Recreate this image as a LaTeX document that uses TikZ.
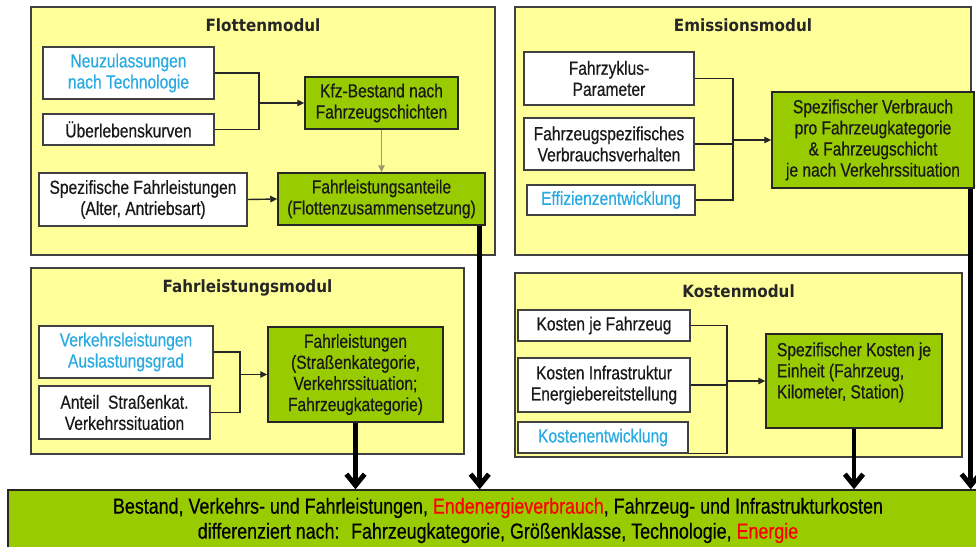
\documentclass[tikz,border=0pt]{standalone}
\usepackage{fontspec}
\setmainfont{Liberation Sans}[FakeStretch=0.82, FakeBold=0.5]
\newfontfamily\titlefont{DejaVu Sans}[FakeStretch=0.9]
\usetikzlibrary{arrows.meta, positioning, calc}
\definecolor{panelyellow}{RGB}{255,255,153}
\definecolor{boxgreen}{RGB}{153,204,0}
\definecolor{inblue}{RGB}{41,171,226}
\definecolor{framegray}{RGB}{64,64,64}

\begin{document}
\begin{tikzpicture}[
  x=0.025cm, y=-0.025cm,
  panel/.style={draw=framegray, line width=1pt, fill=panelyellow, inner sep=0pt},
  ptitle/.style={font=\titlefont\bfseries\fontsize{12}{14}\selectfont, text=black!85},
  wbox/.style={draw=framegray, line width=1pt, fill=white, align=center, inner sep=2pt, text=black!90, font=\fontsize{13.5}{15}\selectfont},
  gbox/.style={wbox, draw=black!85, fill=boxgreen},
  bsize/.style 2 args={minimum width=#1*0.025cm, minimum height=#2*0.025cm},
  link/.style={line width=1pt, draw=black!85},
  linkarr/.style={link, -{Triangle[length=5pt, width=4.5pt]}},
  bigarr/.style={line width=3.5pt, -{Straight Barb[length=8pt, width=13pt]}}
]
  \useasboundingbox (0,0) rectangle (976,547);
  \clip (0,0) rectangle (976,547);

  \node[panel, bsize={464}{248}] (flotte) at (263,131) {};
  \node[panel, bsize={456}{248}] (emis) at (743,131) {};
  \node[panel, bsize={433}{186}] (fahrl) at (247.5,361) {};
  \node[panel, bsize={447}{184}] (kost) at (738.5,365) {};

  \node[ptitle, below=5pt of flotte.north] (tflotte) {Flottenmodul};
  \node[ptitle, below=5pt of emis.north] (temis) {Emissionsmodul};
  \node[ptitle, below=5pt of fahrl.north] (tfahrl) {Fahrleistungsmodul};
  \node[ptitle, below=5pt of kost.north] (tkost) {Kostenmodul};

  \node[wbox, bsize={171}{52}, text=inblue] (neu) at (128.5,73) {Neuzulassungen\\nach Technologie};
  \node[wbox, bsize={171}{31}] (ueber) at (128.5,129.5) {Überlebenskurven};
  \node[gbox, bsize={153}{52}] (kfz) at (381.5,103) {Kfz-Bestand nach\\Fahrzeugschichten};
  \node[wbox, bsize={208}{53}] (spezfl) at (143,199.5) {Spezifische Fahrleistungen\\(Alter, Antriebsart)};
  \node[gbox, bsize={207}{52}] (anteile) at (381.5,199) {Fahrleistungsanteile\\(Flottenzusammensetzung)};

  \node[wbox, bsize={170}{53}] (zyklus) at (609,78.5) {Fahrzyklus-\\Parameter};
  \node[wbox, bsize={170}{52}] (verbr) at (609,144) {Fahrzeugspezifisches\\Verbrauchsverhalten};
  \node[wbox, bsize={168}{30}, text=inblue] (effiz) at (611,200) {Effizienzentwicklung};
  \node[gbox, bsize={202}{96}] (spezv) at (873,140) {Spezifischer Verbrauch\\pro Fahrzeugkategorie\\\& Fahrzeugschicht\\je nach Verkehrssituation};

  \node[wbox, bsize={174}{52}, text=inblue] (verkl) at (126,352) {Verkehrsleistungen\\Auslastungsgrad};
  \node[wbox, bsize={171}{53}] (anteil) at (124.5,412.5) {Anteil~ Straßenkat.\\Verkehrssituation};
  \node[gbox, bsize={175}{95}] (fleist) at (355.5,374.5) {Fahrleistungen\\(Straßenkategorie,\\Verkehrssituation;\\Fahrzeugkategorie)};

  \node[wbox, bsize={172}{31}] (kjf) at (604,325.5) {Kosten je Fahrzeug};
  \node[wbox, bsize={172}{54}] (kinf) at (604,385) {Kosten Infrastruktur\\Energiebereitstellung};
  \node[wbox, bsize={170}{31}, text=inblue] (kentw) at (603,437.5) {Kostenentwicklung};
  \node[gbox, bsize={176}{94}, align=left] (spezk) at (854,381) {Spezifischer Kosten je\\Einheit (Fahrzeug,\\Kilometer, Station)\\\mbox{}};

  \node[gbox, bsize={980}{61}, text=black, font=\fontsize{15.5}{17.8}\selectfont] (result) at (498,520.5)
    {Bestand, Verkehrs- und Fahrleistungen, \textcolor{red}{Endenergieverbrauch}, Fahrzeug- und Infrastrukturkosten\\
     differenziert nach:~ Fahrzeugkategorie, Größenklasse, Technologie, \textcolor{red}{Energie}};

  \coordinate (j1) at (259,103);
  \draw[link] (neu.east) -| (j1);
  \draw[link] (ueber.east) -| (j1);
  \draw[linkarr] (j1) -- (kfz.west);
  \draw[line width=1pt, draw=black!45!olive!60, -{Triangle[length=5pt, width=4.5pt]}] (kfz.south) -- (anteile.north);
  \draw[linkarr] (spezfl.east) -- (anteile.west);

  \coordinate (j2) at (733,140);
  \draw[link] (zyklus.east) -| (j2);
  \draw[link] (effiz.east) -| (j2);
  \draw[link] (verbr.east) -- (verbr.east -| j2);
  \draw[linkarr] (j2) -- (spezv.west);

  \coordinate (j3) at (240,374.5);
  \draw[link] (verkl.east) -| (j3);
  \draw[link] (anteil.east) -| (j3);
  \draw[linkarr] (j3) -- (fleist.west);

  \coordinate (j4) at (727,381);
  \draw[link] (kjf.east) -| (j4);
  \draw[link] (kentw.south east) -| (j4);
  \draw[link] (kinf.east) -- (kinf.east -| j4);
  \draw[linkarr] (j4) -- (spezk.west);

  \draw[bigarr] ([xshift=-6*0.025cm]anteile.south east) -- ([xshift=-6*0.025cm]anteile.south east |- result.north);
  \draw[bigarr] ([xshift=-4*0.025cm]spezv.south east) -- ([xshift=-4*0.025cm]spezv.south east |- result.north);
  \draw[bigarr] (fleist.south) -- (fleist.south |- result.north);
  \draw[bigarr] (spezk.south) -- (spezk.south |- result.north);
\end{tikzpicture}
\end{document}
